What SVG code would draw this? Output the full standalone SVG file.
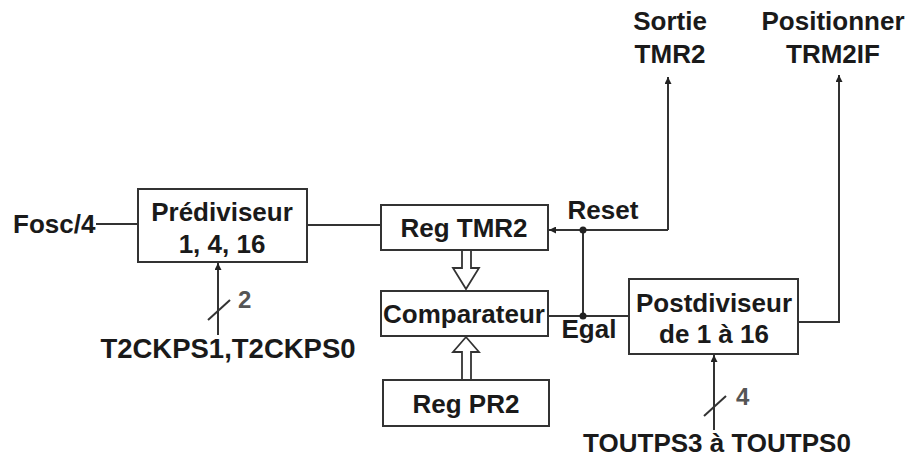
<svg xmlns="http://www.w3.org/2000/svg" width="912" height="459" viewBox="0 0 912 459">
<style>
text{font-family:"Liberation Sans",Arial,sans-serif;font-weight:bold;font-size:26px;fill:#1a1a1a}
.box{fill:#fff;stroke:#333;stroke-width:2}
.ln{fill:none;stroke:#333;stroke-width:2}
.hol{fill:#fff;stroke:#333;stroke-width:1.8}
.num{fill:#555;font-size:24px}
</style>
<defs>
<marker id="ah" viewBox="0 0 10 10" refX="10" refY="5" markerWidth="7" markerHeight="7" orient="auto" markerUnits="userSpaceOnUse"><path d="M0,0 L10,5 L0,10 z" fill="#222"/></marker>
</defs>
<rect width="912" height="459" fill="#fff"/>
<g id="connectors">
<line class="ln" x1="96" y1="224" x2="138" y2="224"/>
<line class="ln" x1="307" y1="225" x2="381" y2="225"/>
<path class="ln" d="M668,230 H549" marker-end="url(#ah)"/>
<path class="ln" d="M668,230 V77" marker-end="url(#ah)"/>
<path class="ln" d="M583,230 V316"/>
<path class="ln" d="M548,316 H630"/>
<circle cx="583" cy="230" r="3.5" fill="#222"/>
<circle cx="583" cy="316" r="3.5" fill="#222"/>
<path class="ln" d="M799,322 H839 V75" marker-end="url(#ah)"/>
<path class="ln" d="M218,335 V263" marker-end="url(#ah)"/>
<line class="ln" x1="208" y1="320" x2="230" y2="300"/>
<path class="ln" d="M714,430 V355" marker-end="url(#ah)"/>
<line class="ln" x1="704" y1="416" x2="726" y2="396"/>
<path class="hol" d="M462,251 V268 H453 L466,289 L479,268 H471 V251"/>
<path class="hol" d="M462,379 V352 H453 L466,337 L479,352 H471 V379"/>
</g>
<g id="prediviseur">
<rect class="box" x="138" y="189" width="169" height="73"/>
<text x="222" y="221" text-anchor="middle">Prédiviseur</text>
<text x="222" y="253" text-anchor="middle">1, 4, 16</text>
</g>
<g id="regtmr2">
<rect class="box" x="381" y="205" width="167" height="45"/>
<text x="464" y="237" text-anchor="middle">Reg TMR2</text>
</g>
<g id="comparateur">
<rect class="box" x="381" y="291" width="167" height="45"/>
<text x="464" y="323" text-anchor="middle">Comparateur</text>
</g>
<g id="regpr2">
<rect class="box" x="383" y="380" width="166" height="46"/>
<text x="466" y="413" text-anchor="middle">Reg PR2</text>
</g>
<g id="postdiviseur">
<rect class="box" x="629" y="279" width="169" height="75"/>
<text x="714" y="312" text-anchor="middle">Postdiviseur</text>
<text x="714" y="343" text-anchor="middle">de 1 à 16</text>
</g>
<g id="labels">
<text x="13" y="233">Fosc/4</text>
<text x="228" y="358" text-anchor="middle" style="font-size:27.5px">T2CKPS1,T2CKPS0</text>
<text class="num" x="238" y="308">2</text>
<text class="num" x="736" y="405">4</text>
<text x="717" y="452" text-anchor="middle">TOUTPS3 à TOUTPS0</text>
<text x="603" y="219" text-anchor="middle">Reset</text>
<text x="589" y="338" text-anchor="middle">Egal</text>
<text x="670" y="30" text-anchor="middle">Sortie</text>
<text x="670" y="63" text-anchor="middle">TMR2</text>
<text x="833" y="30" text-anchor="middle">Positionner</text>
<text x="833" y="63" text-anchor="middle">TRM2IF</text>
</g>
</svg>
